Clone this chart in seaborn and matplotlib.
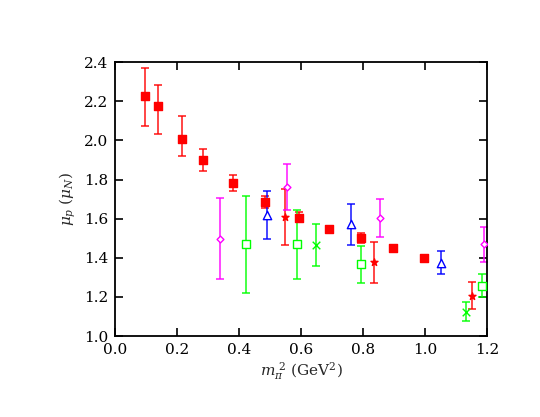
import matplotlib
matplotlib.use('Agg')
import matplotlib.pyplot as plt
import seaborn as sns
import pandas as pd

sns.set_style('ticks')
plt.rcParams['font.family'] = ['DejaVu Serif']
plt.rcParams['mathtext.fontset'] = 'dejavuserif'

# red filled squares
sq_x = [0.097, 0.139, 0.216, 0.284, 0.381, 0.484, 0.594, 0.690, 0.794, 0.895, 0.997]
sq_y = [2.226, 2.175, 2.007, 1.899, 1.782, 1.685, 1.603, 1.545, 1.502, 1.448, 1.397]
sq_lo = [2.073, 2.032, 1.920, 1.843, 1.741, 1.654, 1.583, 1.530, 1.478, 1.435, 1.385]
sq_hi = [2.370, 2.283, 2.124, 1.956, 1.823, 1.715, 1.634, 1.560, 1.526, 1.462, 1.410]

# red stars
st_x = [0.548, 0.834, 1.151]
st_y = [1.607, 1.378, 1.206]
st_lo = [1.465, 1.272, 1.136]
st_hi = [1.751, 1.482, 1.274]

# blue open triangles
tr_x = [0.489, 0.762, 1.052]
tr_y = [1.618, 1.571, 1.376]
tr_lo = [1.494, 1.465, 1.317]
tr_hi = [1.742, 1.673, 1.434]

# magenta open diamonds
dm_x = [0.337, 0.554, 0.855, 1.191]
dm_y = [1.497, 1.763, 1.605, 1.469]
dm_lo = [1.290, 1.644, 1.507, 1.378]
dm_hi = [1.704, 1.880, 1.700, 1.555]

# green open squares
gs_x = [0.423, 0.588, 0.792, 1.185]
gs_y = [1.469, 1.469, 1.366, 1.257]
gs_lo = [1.221, 1.290, 1.269, 1.198]
gs_hi = [1.715, 1.644, 1.460, 1.317]

# green crosses
gx_x = [0.647, 1.133]
gx_y = [1.465, 1.124]
gx_lo = [1.356, 1.077]
gx_hi = [1.574, 1.175]

series = [
    (sq_x, sq_y, sq_lo, sq_hi, '#ff0000', 's', True, 32),
    (st_x, st_y, st_lo, st_hi, '#ff0000', '*', True, 28),
    (tr_x, tr_y, tr_lo, tr_hi, '#0000ff', '^', False, 36),
    (dm_x, dm_y, dm_lo, dm_hi, '#ff00ff', 'D', False, 12),
    (gs_x, gs_y, gs_lo, gs_hi, '#00ff00', 's', False, 36),
    (gx_x, gx_y, gx_lo, gx_hi, '#00ff00', 'x', True, 30),
]

fig = plt.figure(figsize=(5.4, 4.17), dpi=100)
ax = fig.add_axes([0.213, 0.194, 0.689, 0.657])

for x, y, lo, hi, c, m, filled, s in series:
    yerr = [[yy - l for yy, l in zip(y, lo)], [h - yy for yy, h in zip(y, hi)]]
    ax.errorbar(x, y, yerr=yerr, fmt='none', ecolor=c, elinewidth=1.2,
                capsize=3, capthick=1.2, alpha=0.85, clip_on=True)
    df = pd.DataFrame({'x': x, 'y': y})
    if filled:
        sns.scatterplot(data=df, x='x', y='y', ax=ax, marker=m, s=s, color=c,
                        edgecolor=c, linewidth=1.0, zorder=3)
    else:
        sns.scatterplot(data=df, x='x', y='y', ax=ax, marker=m, s=s,
                        facecolor='white', edgecolor=c, linewidth=1.0, zorder=3)

ax.set_xlim(0.0, 1.2)
ax.set_ylim(1.0, 2.4)
ax.set_xticks([0.0, 0.2, 0.4, 0.6, 0.8, 1.0, 1.2])
ax.set_yticks([1.0, 1.2, 1.4, 1.6, 1.8, 2.0, 2.2, 2.4])
ax.set_xticklabels(['0.0', '0.2', '0.4', '0.6', '0.8', '1.0', '1.2'])
ax.set_yticklabels(['1.0', '1.2', '1.4', '1.6', '1.8', '2.0', '2.2', '2.4'])
ax.tick_params(direction='in', length=6, width=1.2, top=True, right=True,
               labelsize=11, colors='black', pad=5)
for sp in ax.spines.values():
    sp.set_linewidth(1.3)
    sp.set_color('black')
ax.set_xlabel(r'$m_\pi^{\ 2}$ (GeV$^2$)', fontsize=11, labelpad=2)
ax.set_ylabel(r'$\mu_p$ ($\mu_N$)', fontsize=11, labelpad=4)

fig.savefig('out.png', dpi=100)
